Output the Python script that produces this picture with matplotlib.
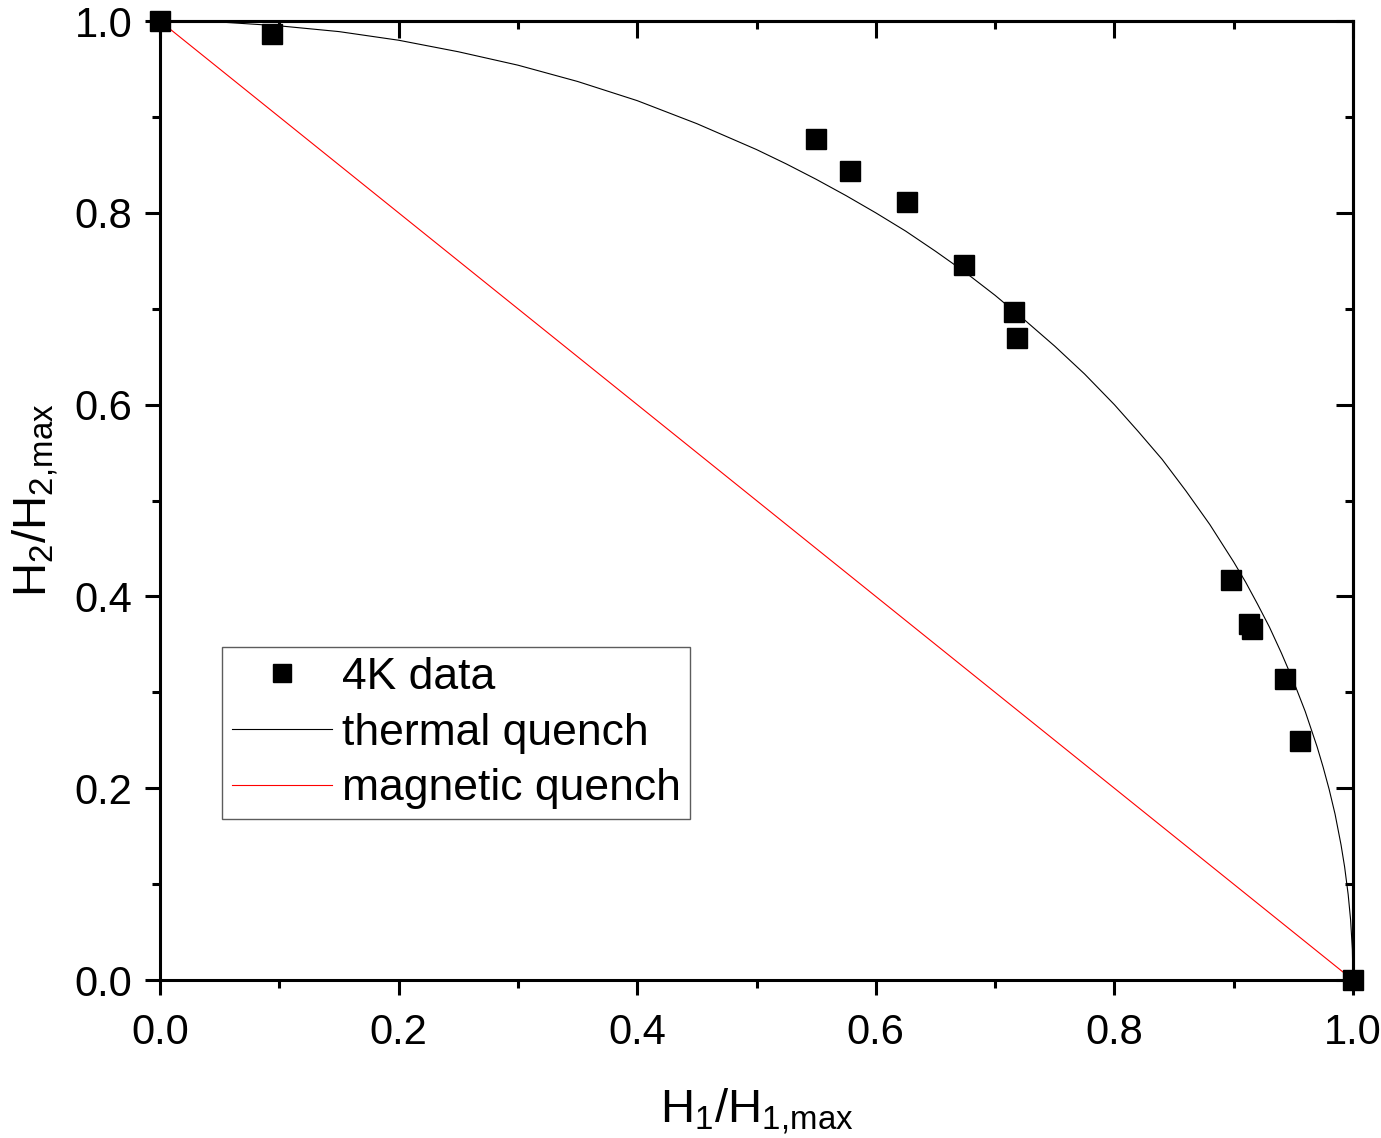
import matplotlib
matplotlib.use('Agg')
import matplotlib.pyplot as plt
from matplotlib.ticker import MultipleLocator, NullFormatter

plt.rcParams['font.family'] = ['Liberation Sans', 'DejaVu Sans']
plt.rcParams['mathtext.fontset'] = 'custom'
plt.rcParams['mathtext.rm'] = 'Liberation Sans'
plt.rcParams['mathtext.it'] = 'Liberation Sans'

# measured points (4K)
h1_data = [0.0, 0.094, 0.550, 0.578, 0.626, 0.674, 0.716, 0.718,
           0.898, 0.913, 0.915, 0.943, 0.956, 1.0]
h2_data = [1.0, 0.987, 0.877, 0.844, 0.811, 0.746, 0.697, 0.669,
           0.417, 0.371, 0.366, 0.314, 0.249, 0.0]

# thermal quench curve
h1_thermal = [0.0, 0.05, 0.1, 0.15, 0.2, 0.25, 0.3, 0.35, 0.4, 0.45, 0.5,
              0.525, 0.55, 0.575, 0.6, 0.625, 0.65, 0.675, 0.7, 0.725, 0.75,
              0.775, 0.8, 0.82, 0.84, 0.86, 0.88, 0.9, 0.91, 0.92, 0.93, 0.94,
              0.95, 0.96, 0.97, 0.975, 0.98, 0.985, 0.99, 0.993, 0.996,
              0.998, 0.9995, 1.0]
h2_thermal = [1.0, 0.999, 0.995, 0.989, 0.980, 0.968, 0.954, 0.937, 0.917,
              0.893, 0.866, 0.851, 0.835, 0.818, 0.800, 0.781, 0.760, 0.738,
              0.714, 0.688, 0.661, 0.632, 0.600, 0.572, 0.543, 0.510, 0.475,
              0.436, 0.415, 0.392, 0.368, 0.341, 0.312, 0.280, 0.243, 0.222,
              0.199, 0.173, 0.141, 0.118, 0.089, 0.063, 0.032, 0.0]

# magnetic quench line
h1_magnetic = [0.0, 1.0]
h2_magnetic = [1.0, 0.0]

fig = plt.figure(figsize=(13.81, 11.38), dpi=100)
ax = fig.add_axes([0.1159, 0.1388, 0.8638, 0.8427])

ax.plot(h1_data, h2_data, 's', color='black', markersize=14.5, clip_on=False,
        zorder=5, label='4K data')
ax.plot(h1_thermal, h2_thermal, '-', color='black', linewidth=0.8,
        label='thermal quench')
ax.plot(h1_magnetic, h2_magnetic, '-', color='red', linewidth=0.8,
        label='magnetic quench')

ax.set_xlim(0, 1)
ax.set_ylim(0, 1)
for a in (ax.xaxis, ax.yaxis):
    a.set_major_locator(MultipleLocator(0.2))
    a.set_minor_locator(MultipleLocator(0.1))
    a.set_major_formatter(plt.FormatStrFormatter('%.1f'))

for s in ax.spines.values():
    s.set_linewidth(2.2)
ax.tick_params(which='major', direction='out', length=11, width=2.2,
               labelsize=30)
ax.tick_params(axis='y', which='major', pad=9)
ax.tick_params(axis='x', which='major', pad=13)
ax.tick_params(which='minor', direction='out', length=6, width=2.2)

# inward ticks on top and right
secx = ax.secondary_xaxis('top')
secy = ax.secondary_yaxis('right')
for sec, a in ((secx, secx.xaxis), (secy, secy.yaxis)):
    a.set_major_locator(MultipleLocator(0.2))
    a.set_minor_locator(MultipleLocator(0.1))
    a.set_major_formatter(NullFormatter())
    sec.tick_params(which='major', direction='in', length=12, width=2.2)
    sec.tick_params(which='minor', direction='in', length=6, width=2.2)
    for s in sec.spines.values():
        s.set_linewidth(2.2)

ax.set_xlabel(r'H$_1$/H$_{1{,}\mathrm{max}}$', fontsize=34, labelpad=24)
ax.set_ylabel(r'H$_2$/H$_{2{,}\mathrm{max}}$', fontsize=34, labelpad=10)

leg = ax.legend(loc='upper left', bbox_to_anchor=(0.052, 0.347),
                borderaxespad=0, fontsize=32, numpoints=1, markerscale=0.85,
                handlelength=2.25, handletextpad=0.22, labelspacing=0.33,
                fancybox=False, frameon=True, borderpad=0.22)
leg.get_frame().set_edgecolor('#333333')
leg.get_frame().set_linewidth(1.0)

plt.savefig('out.png', dpi=100)
